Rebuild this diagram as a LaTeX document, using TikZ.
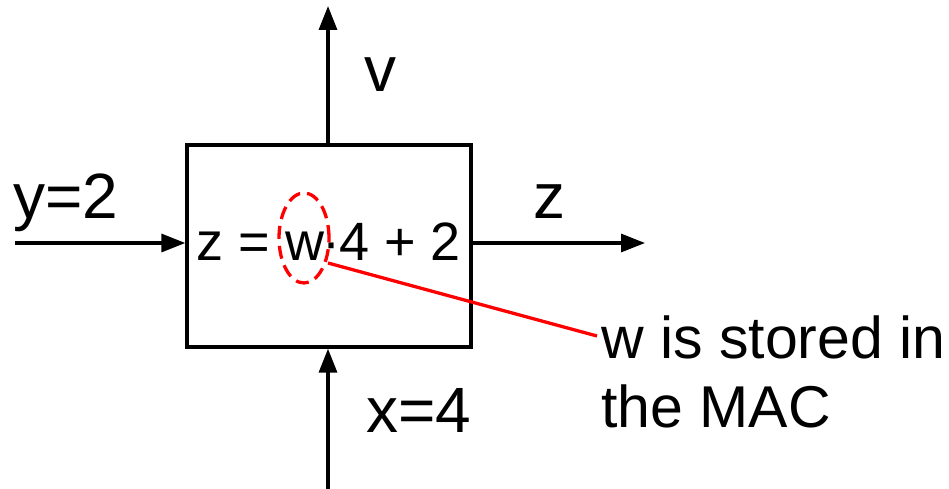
\documentclass[tikz,border=0pt]{standalone}
\usepackage{fontspec}
\setmainfont{Liberation Sans}
\usetikzlibrary{arrows.meta,shapes.geometric}
\begin{document}
\begin{tikzpicture}[x=1pt,y=-1pt,
  flow/.style={line width=3.3pt,-{Triangle[length=24pt,width=18pt]}},
  lbl/.style={inner sep=0pt,font=\fontsize{64}{70}\selectfont},
  note/.style={inner sep=0pt,font=\fontsize{59}{66}\selectfont,align=left}]
\useasboundingbox (0,0) rectangle (949,489);
\node[draw,line width=3.3pt,minimum width=284pt,minimum height=202pt,inner sep=0pt] (box) at (329,246) {};
\node[inner sep=0pt,anchor=base,font=\fontsize{54}{60}\selectfont] (eq) at (329,260) {z = w\kern-2pt·\kern-1pt4 + 2};
\coordinate (lin) at (15,243);
\coordinate (rout) at (645,243);
\coordinate (top) at (328,6);
\coordinate (bot) at (328,489);
\draw[flow] (lin) -- (lin -| box.west);
\draw[flow] (box.east |- rout) -- (rout);
\draw[flow] (box.north -| top) -- (top);
\draw[flow] (bot) -- (bot |- box.south);
\node[lbl,anchor=base west] (ylab) at (13,218) {y=2};
\node[lbl,anchor=base] (vlab) at (380,92) {v};
\node[lbl,anchor=base] (zlab) at (549,218) {z};
\node[lbl,anchor=base] (xlab) at (419,432) {x=4};
\node[draw=red,dash pattern=on 13pt off 7pt,line width=3.3pt,ellipse,minimum width=50pt,minimum height=90pt,inner sep=0pt] (ell) at (304,238) {};
\node[note,anchor=base west] (n1) at (601,358) {w is stored in};
\node[note,anchor=base west] (n2) at (601,427) {the MAC};
\coordinate (lstart) at (328,263);
\coordinate (lend) at (597,336);
\draw[red,line width=3.3pt] (lstart) -- (lend);
\end{tikzpicture}
\end{document}
